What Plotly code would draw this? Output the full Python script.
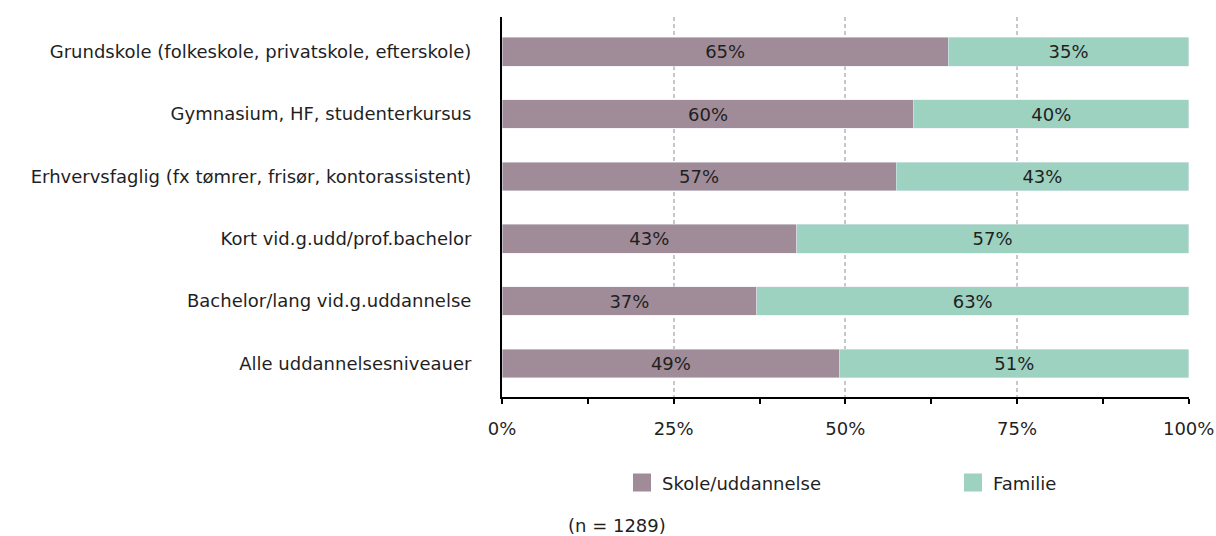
import plotly.graph_objects as go

categories = [
    "Grundskole (folkeskole, privatskole, efterskole)",
    "Gymnasium, HF, studenterkursus",
    "Erhvervsfaglig (fx tømrer, frisør, kontorassistent)",
    "Kort vid.g.udd/prof.bachelor",
    "Bachelor/lang vid.g.uddannelse",
    "Alle uddannelsesniveauer",
]
skole = [65.0, 60.0, 57.4, 42.9, 37.1, 49.2]
familie = [35.0, 40.0, 42.6, 57.1, 62.9, 50.8]
tick_vals = [0, 25, 50, 75, 100]
tick_text = ["0%", "25%", "50%", "75%", "100%"]

FONT = "DejaVu Sans"
SIZE = 18
TEXT = "#1f1f1f"
COL_SKOLE = "#a08c98"
COL_FAMILIE = "#9dd1c0"

fig = go.Figure()
for name, vals, col in [("Skole/uddannelse", skole, COL_SKOLE), ("Familie", familie, COL_FAMILIE)]:
    fig.add_bar(
        name=name,
        y=categories,
        x=vals,
        orientation="h",
        marker_color=col,
        texttemplate="%{x:.0f}%",
        textposition="inside",
        insidetextanchor="middle",
        textangle=0,
        textfont={"family": FONT, "size": SIZE, "color": TEXT},
        showlegend=False,
    )

# legend proxies (bigger square symbols than the bar legend gives)
for name, col, leg in [("Skole/uddannelse", COL_SKOLE, "legend"), ("Familie", COL_FAMILIE, "legend2")]:
    fig.add_trace(
        go.Scatter(
            x=[None],
            y=[None],
            mode="markers",
            name=name,
            marker={"symbol": "square", "size": 16, "color": col,
                    "line": {"color": col, "width": 2}},
            legend=leg,
            hoverinfo="skip",
        )
    )

legend_style = {
    "orientation": "h",
    "xanchor": "left",
    "yanchor": "middle",
    "y": -0.226,
    "font": {"family": FONT, "size": SIZE, "color": TEXT},
    "bgcolor": "rgba(0,0,0,0)",
}

fig.update_layout(
    width=1216,
    height=536,
    barmode="stack",
    bargap=0.54,
    plot_bgcolor="white",
    paper_bgcolor="white",
    margin={"l": 502, "r": 27, "t": 17, "b": 139, "autoexpand": False},
    font={"family": FONT, "size": SIZE, "color": TEXT},
    uniformtext={"mode": "show", "minsize": 10},
    xaxis={
        "range": [0, 100.05],
        "tickvals": tick_vals,
        "ticktext": tick_text,
        "showgrid": True,
        "gridcolor": "#c8c8c8",
        "griddash": "4px,3px",
        "gridwidth": 1.5,
        "showline": True,
        "linecolor": "black",
        "linewidth": 2,
        "ticks": "outside",
        "ticklen": 5,
        "tickwidth": 2,
        "tickcolor": "black",
        "ticklabelstandoff": 9,
        "minor": {"dtick": 12.5, "tick0": 0, "ticks": "outside", "ticklen": 5,
                  "tickwidth": 2, "tickcolor": "black", "showgrid": False},
        "zeroline": False,
        "automargin": False,
        "fixedrange": True,
    },
    yaxis={
        "categoryorder": "array",
        "categoryarray": categories,
        "range": [5.54, -0.557],
        "showline": True,
        "linecolor": "black",
        "linewidth": 2,
        "ticks": "",
        "ticklabelstandoff": 25,
        "showgrid": False,
        "automargin": False,
        "fixedrange": True,
    },
    legend={**legend_style, "x": 0.1747},
    legend2={**legend_style, "x": 0.6565},
    annotations=[
        {
            "text": "(n = 1289)",
            "xref": "paper",
            "yref": "paper",
            "x": 0.1667,
            "y": -0.337,
            "xanchor": "center",
            "yanchor": "middle",
            "showarrow": False,
            "font": {"family": FONT, "size": SIZE, "color": TEXT},
        }
    ],
)

# drop the default 8px page margin so the figure fills the window exactly
fig.write_html(
    "out.html",
    config={"displayModeBar": False},
    post_script="document.body.style.margin='0';document.body.style.overflow='hidden';",
)
